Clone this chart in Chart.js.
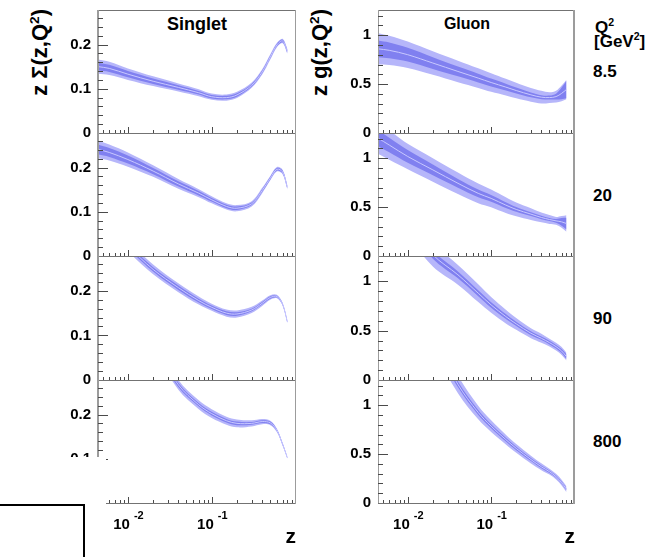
<!DOCTYPE html>
<html>
<head>
<meta charset="utf-8">
<script src="https://cdn.jsdelivr.net/npm/chart.js@4.4.1/dist/chart.umd.min.js"></script>
<style>
html, body { margin: 0; padding: 0; background: #fff; }
#page { position: relative; width: 664px; height: 557px; overflow: hidden;
  font-family: "Liberation Sans", Arial, sans-serif; font-weight: bold; color: #000; }
.panel { position: absolute; }
.txt { position: absolute; white-space: nowrap; line-height: 1; }
.ytitle { position: absolute; width: 120px; height: 26px; line-height: 26px; font-size: 22px;
  text-align: right; white-space: nowrap; transform: rotate(-90deg); }
sup { font-size: 62%; vertical-align: 0.62em; line-height: 0; }
#cover { position: absolute; left: 20px; top: 457px; width: 86px; height: 62px; background: #fff; }
#box { position: absolute; left: -4px; top: 504px; width: 85px; height: 70px; border: 2px solid #000; }
</style>
</head>
<body>
<div id="page">
  <div class="ytitle" style="left:-20px; top:56px;">z &Sigma;(z,Q<sup>2</sup>)</div>
  <div class="ytitle" style="left:260px; top:56px;">z g(z,Q<sup>2</sup>)</div>
  <div class="txt" style="left:147px; width:100px; text-align:center; top:14.8px; font-size:18px;">Singlet</div>
  <div class="txt" style="left:417px; width:100px; text-align:center; top:16px; font-size:16px;">Gluon</div>
  <div class="txt" style="left:595px; top:18.6px; font-size:17px;">Q<sup>2</sup></div>
  <div class="txt" style="left:594px; top:32.6px; font-size:17px;">[GeV<sup>2</sup>]</div>
  <div id="q2labels"></div>
  <div id="panels"></div>
  <div id="cover"></div>
  <div id="box"></div>
</div>
<script>
// z grid shared by every curve
const zGrid = [0.0044, 0.006, 0.01, 0.02, 0.04, 0.07, 0.1, 0.15, 0.2, 0.3, 0.4, 0.5, 0.6, 0.7, 0.8];
const q2Values = ['8.5', '20', '90', '800'];
const xTickValues = [0.01, 0.1];
const xTickExponents = ['-2', '-1'];

// singlet z*Sigma(z,Q2): central value, inner and outer band half widths
const singlet8 = [0.150, 0.146, 0.133, 0.117, 0.103, 0.091, 0.082, 0.080, 0.086, 0.108, 0.138, 0.172, 0.199, 0.208, 0.185];
const singlet8Inner = [0.009, 0.008, 0.007, 0.006, 0.005, 0.004, 0.004, 0.004, 0.004, 0.003, 0.003, 0.003, 0.003, 0.003, 0.004];
const singlet8Outer = [0.016, 0.015, 0.013, 0.011, 0.009, 0.008, 0.007, 0.007, 0.007, 0.006, 0.006, 0.006, 0.005, 0.005, 0.006];

const singlet20 = [0.241, 0.234, 0.218, 0.192, 0.163, 0.142, 0.127, 0.112, 0.108, 0.118, 0.148, 0.176, 0.196, 0.190, 0.155];
const singlet20Inner = [0.011, 0.010, 0.009, 0.007, 0.006, 0.005, 0.004, 0.004, 0.004, 0.003, 0.003, 0.003, 0.003, 0.003, 0.003];
const singlet20Outer = [0.020, 0.018, 0.016, 0.013, 0.011, 0.009, 0.008, 0.007, 0.007, 0.006, 0.006, 0.005, 0.005, 0.005, 0.005];

const singlet90 = [0.370, 0.340, 0.300, 0.248, 0.207, 0.178, 0.163, 0.150, 0.148, 0.157, 0.172, 0.185, 0.187, 0.170, 0.130];
const singlet90Inner = [0.006, 0.006, 0.005, 0.005, 0.005, 0.004, 0.004, 0.004, 0.004, 0.003, 0.003, 0.003, 0.002, 0.002, 0.002];
const singlet90Outer = [0.014, 0.013, 0.012, 0.011, 0.010, 0.009, 0.008, 0.008, 0.008, 0.007, 0.006, 0.005, 0.004, 0.003, 0.003];

const singlet800 = [0.560, 0.520, 0.450, 0.360, 0.267, 0.222, 0.202, 0.186, 0.180, 0.180, 0.184, 0.181, 0.164, 0.133, 0.102];
const singlet800Inner = [0.006, 0.006, 0.005, 0.005, 0.005, 0.004, 0.004, 0.004, 0.004, 0.003, 0.003, 0.003, 0.002, 0.002, 0.001];
const singlet800Outer = [0.014, 0.014, 0.013, 0.012, 0.011, 0.010, 0.010, 0.009, 0.009, 0.007, 0.006, 0.005, 0.004, 0.003, 0.002];

// gluon z*g(z,Q2)
const gluon8 = [0.860, 0.845, 0.800, 0.715, 0.629, 0.561, 0.516, 0.469, 0.434, 0.390, 0.366, 0.362, 0.372, 0.405, 0.445];
const gluon8Inner = [0.085, 0.080, 0.070, 0.060, 0.050, 0.045, 0.040, 0.035, 0.030, 0.025, 0.020, 0.020, 0.030, 0.060, 0.090];
const gluon8Outer = [0.160, 0.150, 0.135, 0.120, 0.110, 0.100, 0.095, 0.085, 0.080, 0.070, 0.065, 0.055, 0.060, 0.080, 0.100];

const gluon20 = [1.205, 1.134, 1.017, 0.880, 0.743, 0.640, 0.589, 0.520, 0.476, 0.428, 0.394, 0.373, 0.359, 0.349, 0.332];
const gluon20Inner = [0.080, 0.075, 0.065, 0.055, 0.045, 0.040, 0.035, 0.030, 0.025, 0.020, 0.018, 0.016, 0.020, 0.040, 0.060];
const gluon20Outer = [0.160, 0.150, 0.130, 0.120, 0.110, 0.100, 0.090, 0.080, 0.070, 0.060, 0.050, 0.045, 0.040, 0.060, 0.085];

const gluon90 = [2.100, 1.900, 1.600, 1.270, 1.066, 0.880, 0.761, 0.643, 0.569, 0.474, 0.423, 0.379, 0.338, 0.294, 0.237];
const gluon90Inner = [0.050, 0.050, 0.040, 0.040, 0.035, 0.030, 0.028, 0.025, 0.022, 0.020, 0.018, 0.018, 0.018, 0.020, 0.025];
const gluon90Outer = [0.150, 0.140, 0.130, 0.120, 0.100, 0.090, 0.080, 0.070, 0.060, 0.050, 0.045, 0.040, 0.040, 0.040, 0.040];

const gluon800 = [3.500, 3.000, 2.300, 1.700, 1.212, 0.925, 0.785, 0.648, 0.558, 0.444, 0.370, 0.320, 0.269, 0.208, 0.141];
const gluon800Inner = [0.050, 0.050, 0.040, 0.040, 0.030, 0.025, 0.020, 0.020, 0.018, 0.015, 0.014, 0.013, 0.012, 0.012, 0.012];
const gluon800Outer = [0.150, 0.140, 0.130, 0.120, 0.090, 0.070, 0.060, 0.050, 0.045, 0.040, 0.035, 0.030, 0.030, 0.030, 0.030];

const OUTER_COLOR = '#b6b6fa';
const INNER_COLOR = '#8080f0';
const LINE_COLOR = '#c8c8ff';

// layout of the 4 x 2 grid (page pixels)
const panelTops = [10, 133, 256, 380];
const panelBottoms = [133, 256, 380, 503];
const columns = [
  { canvasLeft: 40, frameRight: 295, yMax: 0.278, step: 0.1, minor: 0.02, thickLeft: true,
    series: [[singlet8, singlet8Inner, singlet8Outer], [singlet20, singlet20Inner, singlet20Outer],
             [singlet90, singlet90Inner, singlet90Outer], [singlet800, singlet800Inner, singlet800Outer]] },
  { canvasLeft: 320, frameRight: 574, yMax: 1.257, step: 0.5, minor: 0.1, thickRight: true,
    series: [[gluon8, gluon8Inner, gluon8Outer], [gluon20, gluon20Inner, gluon20Outer],
             [gluon90, gluon90Inner, gluon90Outer], [gluon800, gluon800Inner, gluon800Outer]] }
];

const frameTicks = {
  id: 'frameTicks',
  afterDatasetsDraw(chart, args, o) {
    const { ctx, chartArea: a } = chart;
    const xs = chart.scales.x, ys = chart.scales.y;
    ctx.save();
    // frame
    ctx.strokeStyle = '#737373';
    ctx.lineWidth = 1;
    ctx.beginPath();
    ctx.moveTo(a.left, Math.round(a.top) + 0.5); ctx.lineTo(a.right, Math.round(a.top) + 0.5);
    ctx.moveTo(a.left, Math.round(a.bottom) + 0.5); ctx.lineTo(a.right, Math.round(a.bottom) + 0.5);
    ctx.stroke();
    ctx.strokeStyle = '#9c9c9c';
    ctx.lineWidth = o.thickLeft ? 2 : 1;
    ctx.beginPath();
    ctx.moveTo(a.left + (o.thickLeft ? 0 : 0.5), a.top); ctx.lineTo(a.left + (o.thickLeft ? 0 : 0.5), a.bottom);
    ctx.stroke();
    ctx.lineWidth = o.thickRight ? 2 : 1;
    ctx.beginPath();
    ctx.moveTo(a.right + (o.thickRight ? 0 : 0.5), a.top); ctx.lineTo(a.right + (o.thickRight ? 0 : 0.5), a.bottom + 1);
    ctx.stroke();
    // inward ticks, left axis
    ctx.strokeStyle = '#4a4a4a';
    ctx.lineWidth = 1;
    ctx.beginPath();
    const per = Math.round(o.step / o.minor);
    const n = Math.floor(ys.max / o.minor + 1e-6);
    for (let i = 1; i <= n; i++) {
      const py = Math.round(ys.getPixelForValue(i * o.minor)) + 0.5;
      const len = i % per === 0 ? 10 : 5;
      ctx.moveTo(a.left, py); ctx.lineTo(a.left + len, py);
    }
    // inward ticks, bottom axis (log)
    for (let d = -3; d <= 0; d++) {
      for (let k = 1; k <= 9; k++) {
        const z = k * Math.pow(10, d);
        if (z < xs.min || z > xs.max) continue;
        const px = Math.round(xs.getPixelForValue(z)) + 0.5;
        ctx.moveTo(px, a.bottom); ctx.lineTo(px, a.bottom - (k === 1 ? 6 : 3));
      }
    }
    ctx.stroke();
    if (o.bottom) {
      ctx.fillStyle = '#000';
      ctx.textBaseline = 'alphabetic';
      xTickValues.forEach((z, i) => {
        const px = xs.getPixelForValue(z);
        ctx.font = 'bold 15px "Liberation Sans", Arial, sans-serif';
        ctx.textAlign = 'right';
        ctx.fillText('10', px + 2, a.bottom + 26);
        ctx.font = 'bold 11px "Liberation Sans", Arial, sans-serif';
        ctx.textAlign = 'left';
        ctx.fillText(xTickExponents[i], px + 6, a.bottom + 15.5);
      });
      ctx.font = 'bold 21px "Liberation Sans", Arial, sans-serif';
      ctx.textAlign = 'right';
      ctx.fillText('z', a.right + 1, a.bottom + 40);
    }
    ctx.restore();
  }
};

function pts(values) {
  return zGrid.map((z, i) => ({ x: z, y: values[i] }));
}

function band(values, err, sign) {
  return zGrid.map((z, i) => ({ x: z, y: values[i] + sign * err[i] }));
}

const host = document.getElementById('panels');
columns.forEach((col, c) => {
  col.series.forEach(([central, inner, outer], r) => {
    const top = panelTops[r], bottom = panelBottoms[r];
    const isBottom = r === panelTops.length - 1;
    const padBottom = isBottom ? 50 : 10;
    const w = 260, h = (bottom - top) + 10 + padBottom;
    const wrap = document.createElement('div');
    wrap.className = 'panel';
    wrap.style.left = col.canvasLeft + 'px';
    wrap.style.top = (top - 10) + 'px';
    const cv = document.createElement('canvas');
    cv.width = w; cv.height = h;
    cv.style.width = w + 'px'; cv.style.height = h + 'px';
    wrap.appendChild(cv);
    host.appendChild(wrap);

    const common = { pointRadius: 0, tension: 0.35, clip: 0 };
    new Chart(cv.getContext('2d'), {
      type: 'line',
      data: {
        datasets: [
          { ...common, data: pts(central), borderColor: LINE_COLOR, borderWidth: 1, fill: false },
          { ...common, data: band(central, inner, 1), borderWidth: 0, backgroundColor: INNER_COLOR, fill: '+1' },
          { ...common, data: band(central, inner, -1), borderWidth: 0, fill: false },
          { ...common, data: band(central, outer, 1), borderWidth: 0, backgroundColor: OUTER_COLOR, fill: '+1' },
          { ...common, data: band(central, outer, -1), borderWidth: 0, fill: false }
        ]
      },
      options: {
        responsive: false,
        animation: false,
        events: [],
        devicePixelRatio: 1,
        layout: { autoPadding: false, padding: { top: 10, bottom: padBottom, left: 0, right: w - (col.frameRight - col.canvasLeft) } },
        plugins: {
          legend: { display: false },
          tooltip: { enabled: false },
          frameTicks: { step: col.step, minor: col.minor, bottom: isBottom,
                        thickLeft: !!col.thickLeft, thickRight: !!col.thickRight }
        },
        scales: {
          x: { type: 'logarithmic', min: 0.0044, max: 0.985, display: false },
          y: {
            type: 'linear', min: 0, max: col.yMax,
            grid: { display: false, drawTicks: false },
            border: { display: false },
            afterFit: (s) => { s.width = 58; s.paddingTop = 0; s.paddingBottom = 0; },
            ticks: {
              stepSize: col.step, includeBounds: false, autoSkip: false, padding: 7,
              color: '#000',
              font: { family: '"Liberation Sans", Arial, sans-serif', size: 15, weight: 'bold' },
              callback: (v) => String(Math.round(v * 10) / 10)
            }
          }
        }
      },
      plugins: [frameTicks]
    });
  });
});

// Q2 labels at the right of each row
const q2Baselines = [77, 201.7, 324, 447.7];
const q2Host = document.getElementById('q2labels');
q2Values.forEach((q, i) => {
  const d = document.createElement('div');
  d.className = 'txt';
  d.style.left = '593px';
  d.style.fontSize = '17px';
  d.style.top = (q2Baselines[i] - 0.847 * 17) + 'px';
  d.textContent = q;
  q2Host.appendChild(d);
});
</script>
</body>
</html>
